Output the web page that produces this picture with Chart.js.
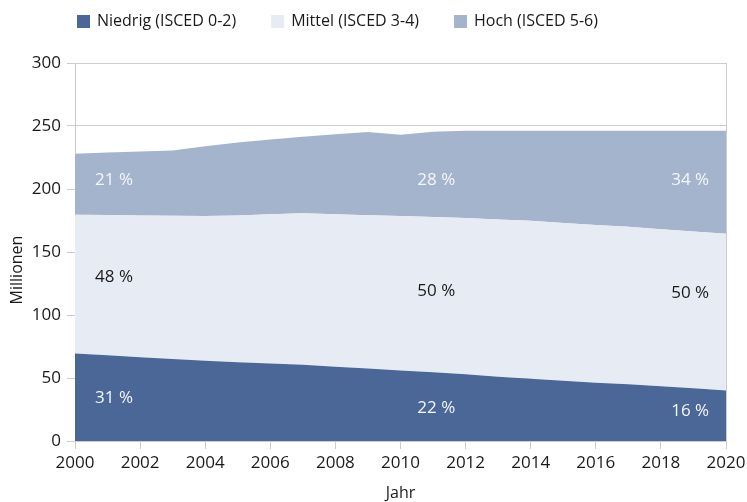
<!DOCTYPE html>
<html>
<head>
<meta charset="utf-8">
<script src="https://cdn.jsdelivr.net/npm/chart.js@4.4.0/dist/chart.umd.min.js"></script>
<style>
    body { margin: 0; background: #ffffff; }
    #wrap { width: 747px; height: 502px; }
</style>
</head>
<body>
<div id="wrap"><canvas id="myChart" width="747" height="502"></canvas></div>
<script>
// Daten (Millionen Personen)
const years = [2000, 2001, 2002, 2003, 2004, 2005, 2006, 2007, 2008, 2009, 2010,
               2011, 2012, 2013, 2014, 2015, 2016, 2017, 2018, 2019, 2020];
const niedrig = [69.5, 68, 66.5, 65, 63.7, 62.5, 61.5, 60.5, 59, 57.5, 56,
                 54.5, 53, 51, 49.5, 47.8, 46.3, 45, 43.5, 41.8, 40];
const mittel = [110, 111.3, 112.5, 113.8, 114.8, 116.5, 118.5, 120.3, 121, 121.7, 122.5,
                123.3, 124, 124.8, 125.3, 125.2, 125.2, 125, 124.5, 124.5, 124.5];
const hoch = [48.5, 49.7, 50.7, 51.7, 55.5, 58, 59.3, 60.7, 63.4, 66.1, 64.5,
              67.7, 69.2, 70.5, 71.5, 73.3, 74.8, 76.3, 78.3, 80, 81.8];
const seriesNames = ["Niedrig (ISCED 0-2)", "Mittel (ISCED 3-4)", "Hoch (ISCED 5-6)"];
const seriesColors = ["#4a6797", "#e7ebf3", "#a5b4cd"];
const yTicks = [0, 50, 100, 150, 200, 250, 300];

// Anteile als Beschriftung im Diagramm (Jahr, Wert, Text, Farbe)
const shareLabels = [
    { year: 2001.2, value: 207, text: "21 %", color: "#f4f6fa" },
    { year: 2011.1, value: 207, text: "28 %", color: "#f4f6fa" },
    { year: 2018.9, value: 207, text: "34 %", color: "#f4f6fa" },
    { year: 2001.2, value: 130, text: "48 %", color: "#1a1a1a" },
    { year: 2011.1, value: 119, text: "50 %", color: "#1a1a1a" },
    { year: 2018.9, value: 117.5, text: "50 %", color: "#1a1a1a" },
    { year: 2001.2, value: 34, text: "31 %", color: "#f4f6fa" },
    { year: 2011.1, value: 26, text: "22 %", color: "#f4f6fa" },
    { year: 2018.9, value: 24, text: "16 %", color: "#f4f6fa" }
];

const fontFamily = "'Open Sans', 'Noto Sans', sans-serif";
const gridColor = "#cccccc";

function toPoints(arr) {
    return years.map((y, i) => ({ x: y, y: arr[i] }));
}

// Legende, Achsentitel und Prozentwerte selbst zeichnen
const extraText = {
    id: 'extraText',
    afterDatasetsDraw(chart) {
        const ctx = chart.ctx;
        const xs = chart.scales.x;
        const ys = chart.scales.y;
        ctx.save();
        ctx.font = "17px " + fontFamily;
        ctx.textBaseline = "middle";
        ctx.textAlign = "center";
        shareLabels.forEach(l => {
            ctx.fillStyle = l.color;
            ctx.fillText(l.text, xs.getPixelForValue(l.year), ys.getPixelForValue(l.value));
        });
        ctx.restore();
    },
    afterDraw(chart) {
        const ctx = chart.ctx;
        ctx.save();
        // Legende
        ctx.font = "16px " + fontFamily;
        ctx.textBaseline = "middle";
        ctx.textAlign = "left";
        let x = 77;
        const y = 21;
        for (let i = 0; i < seriesNames.length; i++) {
            ctx.fillStyle = seriesColors[i];
            ctx.fillRect(x, y - 6, 13, 13);
            ctx.fillStyle = "#1a1a1a";
            ctx.fillText(seriesNames[i], x + 20, y);
            x += 20 + ctx.measureText(seriesNames[i]).width + 35;
        }
        // Achsentitel
        ctx.textAlign = "center";
        ctx.fillText("Jahr", (chart.chartArea.left + chart.chartArea.right) / 2, 493);
        ctx.translate(17, 270);
        ctx.rotate(-Math.PI / 2);
        ctx.fillText("Millionen", 0, 0);
        ctx.restore();
    }
};

const ctx = document.getElementById('myChart').getContext('2d');
const myChart = new Chart(ctx, {
    type: 'line',
    data: {
        datasets: [
            { label: seriesNames[0], data: toPoints(niedrig), backgroundColor: seriesColors[0], fill: 'origin' },
            { label: seriesNames[1], data: toPoints(mittel), backgroundColor: seriesColors[1], fill: '-1' },
            { label: seriesNames[2], data: toPoints(hoch), backgroundColor: seriesColors[2], fill: '-1' }
        ]
    },
    options: {
        responsive: false,
        animation: false,
        layout: { padding: { top: 63, right: 21, left: 0, bottom: 0 } },
        elements: {
            line: { borderWidth: 0, tension: 0 },
            point: { radius: 0 }
        },
        plugins: {
            legend: { display: false },
            tooltip: { enabled: false }
        },
        scales: {
            x: {
                type: 'linear',
                min: 2000,
                max: 2020,
                afterFit: s => {
                    s.height = 61;
                    s.paddingLeft = 0;
                    s.paddingRight = 0;
                },
                afterBuildTicks: s => { s.ticks = years.filter(y => y % 2 === 0).map(v => ({ value: v })); },
                ticks: {
                    callback: v => String(v),
                    font: { family: fontFamily, size: 17 },
                    color: "#1a1a1a",
                    padding: 4,
                    maxRotation: 0
                },
                grid: {
                    color: c => (c.tick && c.tick.value === 2020) ? gridColor : 'transparent',
                    tickColor: gridColor,
                    tickLength: 8
                },
                border: { color: gridColor }
            },
            y: {
                stacked: true,
                min: 0,
                max: 300,
                afterFit: s => {
                    s.width = 75;
                    s.paddingTop = 0;
                    s.paddingBottom = 0;
                },
                afterBuildTicks: s => { s.ticks = yTicks.map(v => ({ value: v })); },
                ticks: {
                    font: { family: fontFamily, size: 17 },
                    color: "#1a1a1a",
                    padding: 6
                },
                grid: { color: gridColor, tickLength: 8 },
                border: { color: gridColor }
            }
        }
    },
    plugins: [extraText]
});
</script>
</body>
</html>
